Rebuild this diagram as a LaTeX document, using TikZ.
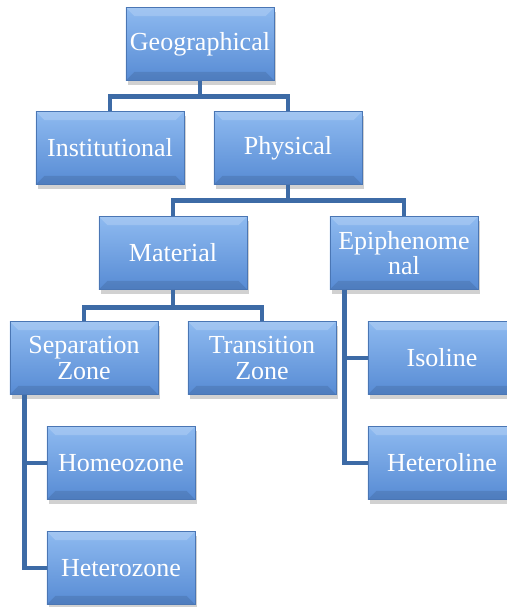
\documentclass[tikz,border=0pt]{standalone}
\usepackage{fontspec}
\setmainfont{Liberation Serif}
\usetikzlibrary{shadows}

\definecolor{boxtop}{HTML}{8EBAF0}
\definecolor{boxbot}{HTML}{578BD4}
\definecolor{boxline}{HTML}{4A76B4}
\definecolor{linkcol}{HTML}{3D6BA6}

\tikzset{
  box/.style={draw=boxline,line width=0.6pt,top color=boxtop,bottom color=boxbot,
    minimum width=3.7cm,minimum height=1.82cm,inner sep=0pt,align=center,
    text=white,font=\fontsize{18.5}{18}\selectfont,
    drop shadow={shadow xshift=1.5pt,shadow yshift=-3pt,opacity=0.3,fill=black!60},
    path picture={
      \fill[white,opacity=0.18] (path picture bounding box.north west) -- (path picture bounding box.north east)
        -- ([xshift=-6pt,yshift=-6pt]path picture bounding box.north east)
        -- ([xshift=6pt,yshift=-6pt]path picture bounding box.north west) -- cycle;
      \fill[black,opacity=0.1] (path picture bounding box.south west) -- (path picture bounding box.south east)
        -- ([xshift=-6pt,yshift=6pt]path picture bounding box.south east)
        -- ([xshift=6pt,yshift=6pt]path picture bounding box.south west) -- cycle;
    }},
  link/.style={draw=linkcol,line width=3.4pt}
}

\begin{document}
\begin{tikzpicture}[x=0.025cm,y=-0.025cm]
  \useasboundingbox (0,0) rectangle (507,607);
  % boxes, placed at pixel centres
  \node[box] (geo)     at (200,44)  {Geographical};
  \node[box] (inst)    at (110,148) {Institutional};
  \node[box] (phys)    at (288,148) {Physical};
  \node[box] (mat)     at (173,253) {Material};
  \node[box] (epi)     at (404,253) {Epiphenome\\nal};
  \node[box] (sep)     at (84,358)  {Separation\\Zone};
  \node[box] (trans)   at (262,358) {Transition\\Zone};
  \node[box] (iso)     at (442,358) {Isoline};
  \node[box] (hetline) at (442,463) {Heteroline};
  \node[box] (homeo)   at (121,463) {Homeozone};
  \node[box] (hetzone) at (121,568) {Heterozone};
  % tree links
  \draw[link] (geo.south) -- ++(0,16) -| (inst.north);
  \draw[link] (geo.south) -- ++(0,16) -| (phys.north);
  \draw[link] (phys.south) -- ++(0,16) -| (mat.north);
  \draw[link] (phys.south) -- ++(0,16) -| (epi.north);
  \draw[link] (mat.south) -- ++(0,18) -| (sep.north);
  \draw[link] (mat.south) -- ++(0,18) -| (trans.north);
  % side links
  \draw[link] (epi.south west) ++(15,0) |- (iso.west);
  \draw[link] (epi.south west) ++(15,0) |- (hetline.west);
  \draw[link] (sep.south west) ++(15,0) |- (homeo.west);
  \draw[link] (sep.south west) ++(15,0) |- (hetzone.west);
\end{tikzpicture}
\end{document}
